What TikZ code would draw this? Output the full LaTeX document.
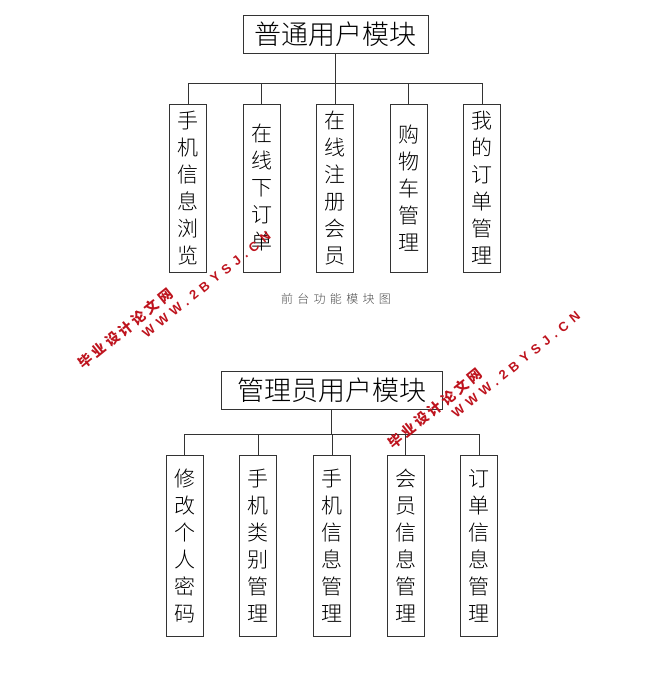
\documentclass[tikz,border=0pt]{standalone}
\usepackage{fontspec}
\setmainfont{Noto Sans CJK SC Light}
\newfontfamily\capfont{Noto Sans CJK SC Light}[LetterSpace=36]
\newfontfamily\wmcjk{Noto Sans CJK SC}[LetterSpace=22]
\newfontfamily\wmlat{Liberation Sans}[LetterSpace=40]
\definecolor{wmred}{RGB}{190,20,30}

\begin{document}
\begin{tikzpicture}
		[x=1pt,y=-1pt,
		TopNode/.style={draw=black!80,line width=0.8pt,inner sep=0pt,font=\fontsize{27}{30}\selectfont},
		SubNode/.style={draw=black!80,line width=0.8pt,inner sep=0pt,minimum width=37pt,align=center,font=\fontsize{21}{27}\selectfont},
		WMark/.style={text=wmred,rotate=39,inner sep=0pt}]

		\useasboundingbox (0,0) rectangle (664,676);

		% 前台：普通用户模块
		\node[TopNode,minimum width=185pt,minimum height=38pt] (u) at (335.5,34){普通用户模块};
		\coordinate (bu) at (335.5,83.3);

		\foreach \s [count=\x] in {手\\机\\信\\息\\浏\\览,在\\线\\下\\订\\单,在\\线\\注\\册\\会\\员,购\\物\\车\\管\\理,我\\的\\订\\单\\管\\理}
		\node[SubNode,minimum height=168pt] (u_\x) at (114.5+73.5*\x,188){\s};

		\draw[black!80,line width=0.8pt](u)--(bu);
		\foreach \x in {1,...,5}
		\draw[black!80,line width=0.8pt](bu)-|(u_\x);

		% 图名
		\node[text=black!70,font=\capfont\fontsize{12}{14}\selectfont] (cap) at (336,299){前台功能模块图};

		% 后台：管理员用户模块
		\node[TopNode,minimum width=221pt,minimum height=37.5pt] (g) at (331.7,390.5){管理员用户模块};
		\coordinate (bg) at (331.7,434);

		\foreach \s [count=\x] in {修\\改\\个\\人\\密\\码,手\\机\\类\\别\\管\\理,手\\机\\信\\息\\管\\理,会\\员\\信\\息\\管\\理,订\\单\\信\\息\\管\\理}
		\node[SubNode,minimum height=181pt] (g_\x) at (110.8+73.7*\x,545.5){\s};

		\draw[black!80,line width=0.8pt](g)--(bg);
		\foreach \x in {1,...,5}
		\draw[black!80,line width=0.8pt](bg)-|(g_\x);

		% 水印
		\foreach \dx/\dy [count=\x] in {0/0,309.5/80}
		{
			\node[WMark,font=\wmcjk\bfseries\fontsize{14}{14}\selectfont] (wm_\x) at (125.5+\dx,328.5+\dy){毕业设计论文网};
			\node[WMark,font=\wmlat\bfseries\fontsize{13}{13}\selectfont] (ws_\x) at (206.5+\dx,285+\dy){WWW.2BYSJ.CN};
		}

	\end{tikzpicture}
\end{document}
